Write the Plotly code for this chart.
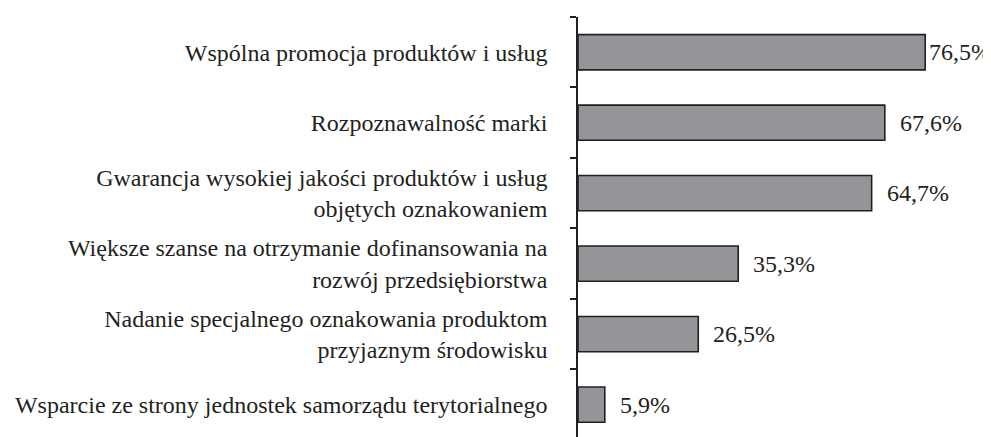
import plotly.graph_objects as go

categories = [
    "Wspólna promocja produktów i usług",
    "Rozpoznawalność marki",
    "Gwarancja wysokiej jakości produktów i usług<br>objętych oznakowaniem",
    "Większe szanse na otrzymanie dofinansowania na<br>rozwój przedsiębiorstwa",
    "Nadanie specjalnego oznakowania produktom<br>przyjaznym środowisku",
    "Wsparcie ze strony jednostek samorządu terytorialnego",
]
values = [76.5, 67.6, 64.7, 35.3, 26.5, 5.9]
labels = [f"{v:.1f}".replace(".", ",") + "%" for v in values]

FONT = "'Liberation Serif', 'Times New Roman', Times, serif"
PAGE_OFFSET = 8  # default body margin of the html page
W, H = 991 - PAGE_OFFSET, 437 - PAGE_OFFSET
ML, MT = 578 - PAGE_OFFSET, 17 - PAGE_OFFSET
XMAX = 91.0
px_per_unit = (W - ML) / XMAX
TEXT_W = 64

fig = go.Figure()
fig.add_trace(go.Bar(
    y=categories, x=values, orientation="h",
    width=0.5,
    marker=dict(color="#939598", line=dict(color="#231f20", width=1.6)),
    hoverinfo="skip",
))

for c, v, t in zip(categories, values, labels):
    end_px = ML + v * px_per_unit
    shift = max(2, min(13, W - TEXT_W - end_px))
    fig.add_annotation(
        x=v, y=c, text=t, showarrow=False, xanchor="left", yanchor="middle",
        xshift=shift, font=dict(family=FONT, size=24, color="#231f20"),
    )

fig.update_layout(
    width=W, height=H,
    margin=dict(l=ML, r=0, t=MT, b=0),
    paper_bgcolor="white", plot_bgcolor="white",
    showlegend=False,
    font=dict(family=FONT, size=24, color="#231f20"),
)
fig.update_xaxes(range=[0, XMAX], visible=False, showgrid=False, zeroline=False)
fig.update_yaxes(
    type="category",
    range=[5.46, -0.5],
    showline=True, linecolor="#231f20", linewidth=1.6,
    ticks="outside", tickson="boundaries", ticklen=6, tickwidth=1.6, tickcolor="#231f20",
    ticklabelstandoff=24,
    showgrid=False, zeroline=False,
    tickfont=dict(family=FONT, size=24, color="#231f20"),
)

fig.write_html("out.html")
